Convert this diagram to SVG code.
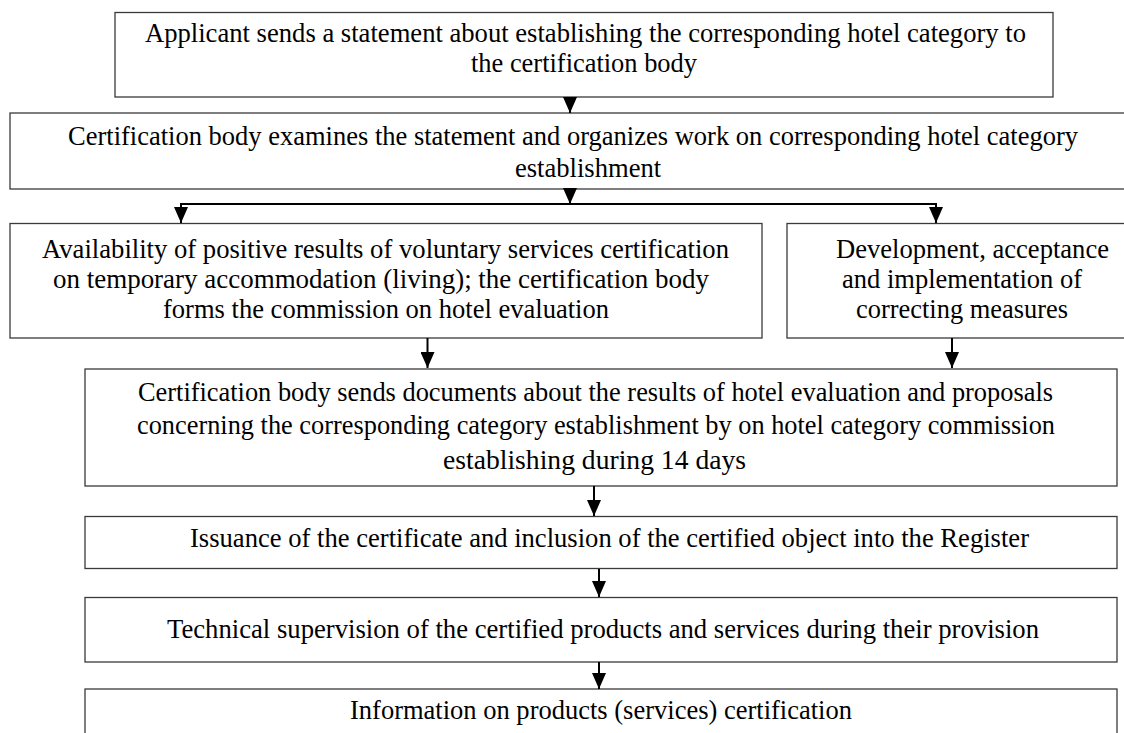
<svg xmlns="http://www.w3.org/2000/svg" width="1124" height="733" viewBox="0 0 1124 733">
<style>
.box{fill:#ffffff;stroke:#3a3a3a;stroke-width:1.3}
.t{font-family:"Liberation Serif","Times New Roman",serif;font-size:26.6px;fill:#000;text-anchor:middle}
.c{fill:none;stroke:#000;stroke-width:2}
</style>
<defs>
<marker id="ah" markerUnits="userSpaceOnUse" markerWidth="16" markerHeight="14" viewBox="0 0 16 14" refX="16" refY="7" orient="auto-start-reverse">
<path d="M0,0 L16,7 L0,14 Z" fill="#000"/>
</marker>
</defs>
<rect width="1124" height="733" fill="#ffffff"/>
<g id="n1">
<rect class="box" x="115" y="12.5" width="938" height="84.5"/>
<text class="t" x="585.5" y="42" textLength="881" lengthAdjust="spacingAndGlyphs">Applicant sends a statement about establishing the corresponding hotel category to</text>
<text class="t" x="584" y="72" textLength="226" lengthAdjust="spacingAndGlyphs">the certification body</text>
</g>
<g id="n2">
<rect class="box" x="10" y="113" width="1130" height="76"/>
<text class="t" x="573" y="145" textLength="1010" lengthAdjust="spacingAndGlyphs">Certification body examines the statement and organizes work on corresponding hotel category</text>
<text class="t" x="588" y="177">establishment</text>
</g>
<g id="n3">
<rect class="box" x="10" y="223.5" width="752" height="114.5"/>
<text class="t" x="385.5" y="258" textLength="687" lengthAdjust="spacingAndGlyphs">Availability of positive results of voluntary services certification</text>
<text class="t" x="381" y="288" textLength="656" lengthAdjust="spacingAndGlyphs">on temporary accommodation (living); the certification body</text>
<text class="t" x="386" y="318" textLength="446" lengthAdjust="spacingAndGlyphs">forms the commission on hotel evaluation</text>
</g>
<g id="n4">
<rect class="box" x="787" y="223.5" width="360" height="114.5"/>
<text class="t" x="972.5" y="258" textLength="273" lengthAdjust="spacingAndGlyphs">Development, acceptance</text>
<text class="t" x="962" y="288" textLength="240" lengthAdjust="spacingAndGlyphs">and implementation of</text>
<text class="t" x="962" y="318" textLength="212" lengthAdjust="spacingAndGlyphs">correcting measures</text>
</g>
<g id="n5">
<rect class="box" x="85" y="369" width="1032" height="117"/>
<text class="t" x="595.5" y="401" textLength="915" lengthAdjust="spacingAndGlyphs">Certification body sends documents about the results of hotel evaluation and proposals</text>
<text class="t" x="596" y="434" textLength="918" lengthAdjust="spacingAndGlyphs">concerning the corresponding category establishment by on hotel category commission</text>
<text class="t" x="594.5" y="469" textLength="303" lengthAdjust="spacingAndGlyphs">establishing during 14 days</text>
</g>
<g id="n6">
<rect class="box" x="85" y="516.5" width="1032" height="52"/>
<text class="t" x="609.5" y="547" textLength="839" lengthAdjust="spacingAndGlyphs">Issuance of the certificate and inclusion of the certified object into the Register</text>
</g>
<g id="n7">
<rect class="box" x="85" y="597.5" width="1032" height="64.5"/>
<text class="t" x="603" y="638" textLength="872" lengthAdjust="spacingAndGlyphs">Technical supervision of the certified products and services during their provision</text>
</g>
<g id="n8">
<rect class="box" x="85" y="689" width="1032" height="60"/>
<text class="t" x="601" y="719" textLength="502" lengthAdjust="spacingAndGlyphs">Information on products (services) certification</text>
</g>
<g id="connectors">
<path class="c" d="M570,97 V113" marker-end="url(#ah)"/>
<path class="c" d="M570,189 V204" marker-end="url(#ah)"/>
<path class="c" d="M181,223 V204 H936 V223" marker-start="url(#ah)" marker-end="url(#ah)"/>
<path class="c" d="M427.5,338 V368" marker-end="url(#ah)"/>
<path class="c" d="M952,338 V368" marker-end="url(#ah)"/>
<path class="c" d="M594,486 V516" marker-end="url(#ah)"/>
<path class="c" d="M599,569 V597" marker-end="url(#ah)"/>
<path class="c" d="M599,662 V689" marker-end="url(#ah)"/>
</g>
</svg>
